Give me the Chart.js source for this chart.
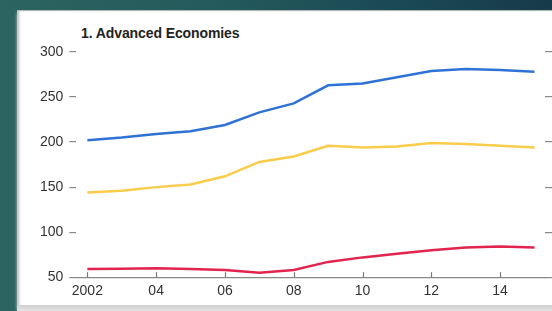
<!DOCTYPE html>
<html>
<head>
<meta charset="utf-8">
<script src="https://cdn.jsdelivr.net/npm/chart.js@4.4.1/dist/chart.umd.min.js"></script>
<style>
  html, body { margin: 0; padding: 0; width: 552px; height: 311px; overflow: hidden; }
  body { background: linear-gradient(to right, #2c6461 0%, #245a5b 40%, #1b4a56 70%, #173a4a 100%); position: relative; }
  #panel { position: absolute; left: 17px; top: 10px; width: 535px; height: 296px; background: #fff;
           border-top: 1px solid #aab8b8; box-shadow: inset 3px 0 3px -1px #bbb, 0 3px 3px #c8c8c8; }
  #bottomstrip { position: absolute; left: 17px; top: 305px; width: 535px; height: 6px; background: linear-gradient(#cfcfcf, #e4e4e4); }
  #title { position: absolute; left: 81px; top: 25px; font: bold 14px "Liberation Sans", Arial, sans-serif; color: #222; white-space: nowrap; letter-spacing: -0.1px; }
  #wrap { position: absolute; left: 0; top: 0; width: 552px; height: 311px; }
</style>
</head>
<body>
<div id="panel"></div>
<div id="bottomstrip"></div>
<div id="title">1. Advanced Economies</div>
<div id="wrap"><canvas id="c" width="552" height="311"></canvas></div>
<script>
const years = [2002, 2003, 2004, 2005, 2006, 2007, 2008, 2009, 2010, 2011, 2012, 2013, 2014, 2015];
const blueSeries   = [202, 205, 209, 212, 219, 233, 243, 263, 265, 272, 279, 281, 280, 278];
const yellowSeries = [144, 146, 150, 153, 162, 178, 184, 196, 194, 195, 199, 198, 196, 194];
const redSeries    = [59, 59.5, 60, 59, 58, 55, 58, 67, 72, 76, 80, 83, 84, 83];
const xTickValues = [2002, 2004, 2006, 2008, 2010, 2012, 2014];
const xTickLabels = ['2002', '04', '06', '08', '10', '12', '14'];
const yTickValues = [50, 100, 150, 200, 250, 300];

function pts(arr) { return years.map((y, i) => ({ x: y, y: arr[i] })); }

const xTickMarks = {
  id: 'xTickMarks',
  afterDatasetsDraw(chart) {
    const xs = chart.scales.x, ctx = chart.ctx;
    const yb = chart.chartArea.bottom;
    ctx.save();
    ctx.strokeStyle = '#777';
    ctx.lineWidth = 1.2;
    xTickValues.forEach(v => {
      const px = Math.round(xs.getPixelForValue(v)) + 0.5;
      ctx.beginPath();
      ctx.moveTo(px, yb);
      ctx.lineTo(px, yb - 5);
      ctx.stroke();
    });
    ctx.restore();
  }
};

new Chart(document.getElementById('c'), {
  type: 'line',
  data: {
    datasets: [
      { data: pts(blueSeries), borderColor: '#2f72d6', borderWidth: 2.5, pointRadius: 0, tension: 0 },
      { data: pts(yellowSeries), borderColor: '#fbcb4a', borderWidth: 2.5, pointRadius: 0, tension: 0 },
      { data: pts(redSeries), borderColor: '#e2244f', borderWidth: 2.5, pointRadius: 0, tension: 0 }
    ]
  },
  options: {
    responsive: false,
    animation: false,
    layout: { padding: { left: 34, right: 0, top: 52, bottom: 5 } },
    plugins: { legend: { display: false }, tooltip: { enabled: false }, title: { display: false } },
    scales: {
      x: {
        type: 'linear', min: 2001.68, max: 2015.305,
        afterBuildTicks(scale) { scale.ticks = xTickValues.map(v => ({ value: v })); },
        ticks: {
          autoSkip: false, maxRotation: 0, padding: 6, color: '#333',
          font: { family: '"Liberation Sans", Arial, sans-serif', size: 14 },
          callback(v) { const i = xTickValues.indexOf(v); return i >= 0 ? xTickLabels[i] : ''; }
        },
        grid: { drawOnChartArea: false, drawTicks: false },
        border: { display: true, color: '#888', width: 1.2 }
      },
      y: {
        position: 'left', min: 50, max: 300,
        afterBuildTicks(scale) { scale.ticks = yTickValues.map(v => ({ value: v })); },
        ticks: { padding: 6, color: '#333', font: { family: '"Liberation Sans", Arial, sans-serif', size: 14 } },
        grid: { drawOnChartArea: false, drawTicks: true, tickLength: 7, color: '#888', lineWidth: 1.2 },
        border: { display: false }
      },
      y2: {
        position: 'right', min: 50, max: 300,
        afterBuildTicks(scale) { scale.ticks = yTickValues.map(v => ({ value: v })); },
        ticks: { display: false },
        grid: { drawOnChartArea: false, drawTicks: true, tickLength: 7, color: '#888', lineWidth: 1.2 },
        border: { display: false }
      }
    }
  },
  plugins: [xTickMarks]
});
</script>
</body>
</html>
